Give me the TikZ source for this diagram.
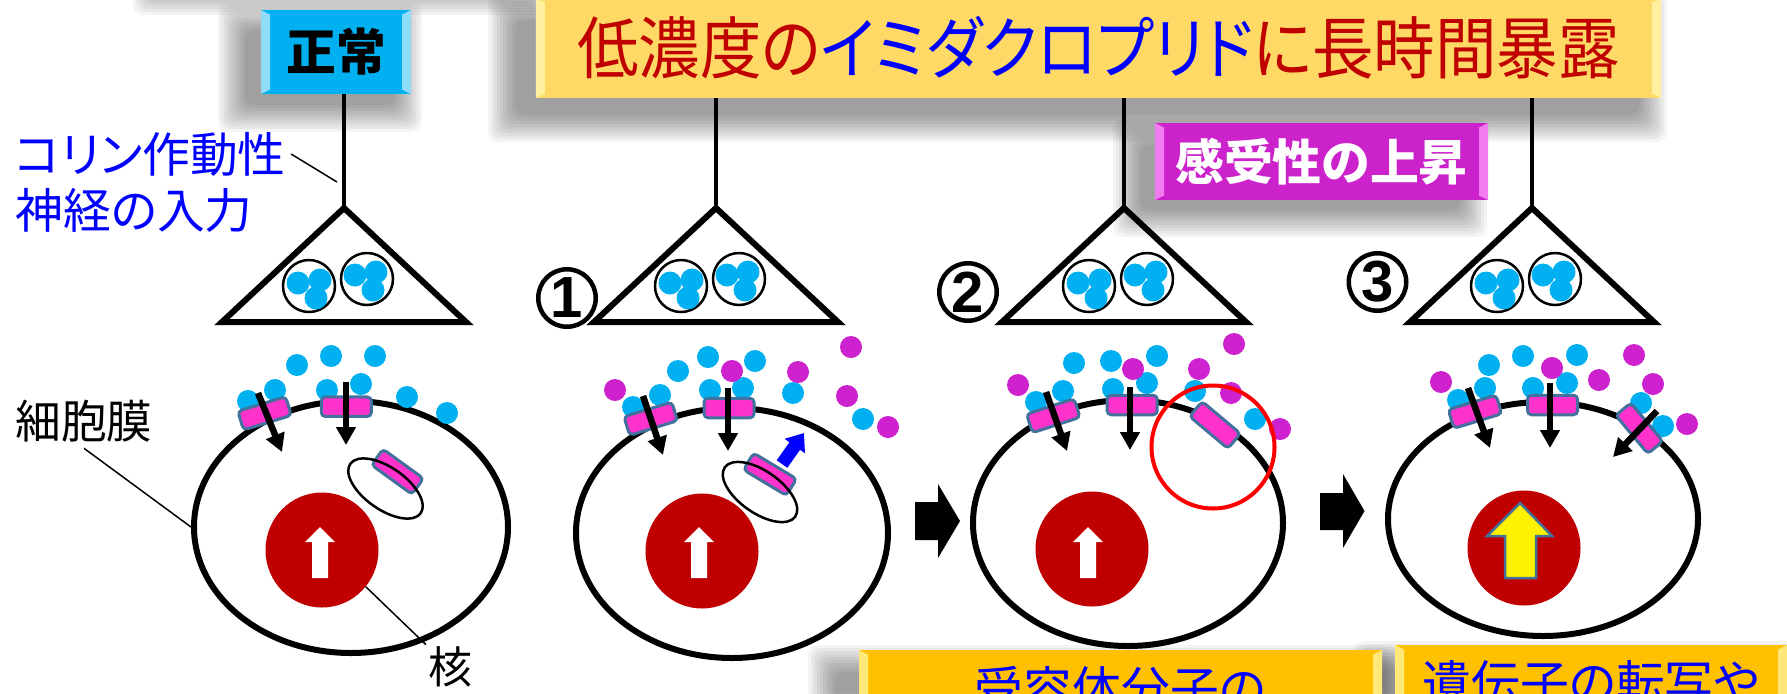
\documentclass[tikz,border=0pt]{standalone}
\usepackage{fontspec}
\setmainfont{Liberation Sans}
\newfontfamily\jp[RawFeature=+palt]{Noto Sans CJK JP}
\usetikzlibrary{arrows.meta, shapes.geometric}

\definecolor{achcyan}{HTML}{00B0F0}
\definecolor{imimag}{HTML}{CE22CE}
\definecolor{recpink}{HTML}{FF33CC}
\definecolor{recedge}{HTML}{41719C}
\definecolor{nucred}{HTML}{C00000}
\definecolor{titleyel}{HTML}{FFD966}
\definecolor{titlerim}{HTML}{FFF0A0}
\definecolor{normrim}{HTML}{8FDCF8}
\definecolor{sensmag}{HTML}{CC22CC}
\definecolor{sensrim}{HTML}{F07CF0}
\definecolor{noteorg}{HTML}{FFC000}
\definecolor{noterim}{HTML}{FFE87A}

\tikzset{
  bevel/.style={path picture={
    \fill[#1] (path picture bounding box.south west) -- (path picture bounding box.north west)
      -- ([shift={(1.8mm,-0.9mm)}]path picture bounding box.north west)
      -- ([shift={(1.8mm,0.9mm)}]path picture bounding box.south west) -- cycle;
    \fill[#1] (path picture bounding box.south east) -- (path picture bounding box.north east)
      -- ([shift={(-1.8mm,-0.9mm)}]path picture bounding box.north east)
      -- ([shift={(-1.8mm,0.9mm)}]path picture bounding box.south east) -- cycle;}},
  jpfont/.style={font=\jp\fontsize{#1}{#1}\selectfont},
  axon/.style={line width=0.9mm},
  soma/.style={line width=1.2mm, line join=miter},
  vesicle/.style={circle, draw, line width=0.5mm, fill=white, minimum size=10.4mm, inner sep=0pt},
  membrane/.style={ellipse, draw, line width=1.2mm, inner sep=0pt},
  nucleus/.style={ellipse, fill=nucred, inner sep=0pt, minimum width=22.6mm, minimum height=23mm},
  receptor/.style={rectangle, draw=recedge, fill=recpink, line width=0.6mm, rounded corners=0.8mm,
    minimum width=10mm, minimum height=3.9mm, inner sep=0pt},
  endosome/.style={ellipse, draw, line width=0.5mm, inner sep=0pt,
    minimum width=17.2mm, minimum height=8.4mm},
  influx/.style={line width=1.3mm, -{Triangle[width=3.8mm,length=3.6mm]}},
  leader/.style={line width=0.3mm},
  stepnum/.style={circle, draw, line width=0.9mm, minimum size=11.5mm, inner sep=0pt,
    font=\fontsize{33pt}{33pt}\selectfont\bfseries},
}

% soft grey shadow: corners of its core
\newcommand\softshadow[4]{%
  \foreach \k in {0,...,9}
    \fill[black, opacity=0.045, rounded corners=2mm]
      ({#1-3*\k},{#2-3*\k}) rectangle ({#3+3*\k},{#4+3*\k});}

% nerve terminal with two vesicles: apex x, apex name
\newcommand\terminal[2]{%
  \coordinate (#2) at (#1,208);
  \draw[soma] (#2) -- ({#1-122},322) -- ({#1+122},322) -- cycle;
  \node[vesicle] (#2va) at ({#1-35},286) {};
  \node[vesicle] (#2vb) at ({#1+23},279) {};
  \foreach \dx/\dy in {-11/-3, 11/-6, 7/12}
    \fill[achcyan] ({#1-35+\dx},{286+\dy}) circle[radius=2.3mm];
  \foreach \dx/\dy in {-12/-4, 9/-7, 6/11}
    \fill[achcyan] ({#1+23+\dx},{279+\dy}) circle[radius=2.3mm];}

% white up arrow inside a nucleus
\newcommand\nucarrow[1]{%
  \fill[white] ({#1-8},578) -- ({#1-8},542) -- ({#1-15},542) -- (#1,527)
    -- ({#1+15},542) -- ({#1+8},542) -- ({#1+8},578) -- cycle;}

\begin{document}
\begin{tikzpicture}[x=0.2mm, y=-0.2mm]
  \useasboundingbox (0,0) rectangle (1787,693);
  \clip (0,0) rectangle (1787,693);
  \fill[white] (0,0) rectangle (1787,693);

  % shadows
  \softshadow{160}{-70}{520}{-12}
  \softshadow{245}{30}{395}{105}
  \softshadow{515}{20}{1640}{115}
  \softshadow{1140}{145}{1460}{210}
  \softshadow{835}{672}{1370}{730}
  \softshadow{1380}{668}{1787}{730}

  % headline boxes
  \node[fill=titleyel, bevel=titlerim, minimum width=225mm, minimum height=20mm, inner sep=0pt,
        jpfont=35pt] (title) at (1098.5,48)
    {\scalebox{1}[1.1]{\textcolor{nucred}{低濃度の}\textcolor{blue}{イミダクロプリド}\textcolor{nucred}{に長時間暴露}}};
  \node[fill=achcyan, bevel=normrim, minimum width=30mm, minimum height=16.8mm, inner sep=0pt,
        font=\jp\bfseries\fontsize{28.3pt}{28.3pt}\selectfont] (normal) at (336,52) {正常};
  \node[fill=sensmag, bevel=sensrim, minimum width=66.6mm, minimum height=15.4mm, inner sep=0pt,
        text=white, font=\jp\bfseries\fontsize{27.8pt}{27.8pt}\selectfont] (sens) at (1321.5,161.5) {感受性の上昇};
  \node[fill=noteorg, bevel=noterim, minimum width=104.6mm, minimum height=15.6mm, inner sep=0pt,
        text=blue, jpfont=27.8pt] (noteA) at (1120.5,689) {受容体分子の};
  \node[fill=noteorg, bevel=noterim, minimum width=78.4mm, minimum height=15.2mm, inner sep=0pt,
        text=blue, jpfont=27.8pt] (noteB) at (1591,683) {遺伝子の転写や};

  % nerve terminals hanging from the boxes
  \terminal{344}{ap0}
  \terminal{716}{ap1}
  \terminal{1124}{ap2}
  \terminal{1532}{ap3}
  \draw[axon] (ap0 |- normal.south) -- (ap0);
  \draw[axon] (ap1 |- title.south) -- (ap1);
  \draw[axon] (ap2 |- title.south) -- (ap2);
  \draw[axon] (ap3 |- title.south) -- (ap3);

  % input label
  \node[anchor=west, inner sep=0pt, text=blue, jpfont=27.2pt] (chol1) at (15,154) {コリン作動性};
  \node[anchor=west, inner sep=0pt, text=blue, jpfont=27.2pt] (chol2) at (15,210) {神経の入力};
  \coordinate (ax0pt) at (337,182);
  \draw[leader] ([xshift=1mm]chol1.east) -- (ax0pt);

  % step numbers
  \node[stepnum] (s1) at (567,298) {1};
  \node[stepnum] (s2) at (968,292) {2};
  \node[stepnum] (s3) at (1377.5,282) {3};

  % cells and nuclei
  \node[membrane, minimum width=62.8mm, minimum height=50.4mm] (cell0) at (351,527) {};
  \node[membrane, minimum width=62.4mm, minimum height=50mm] (cell1) at (732,533) {};
  \node[membrane, minimum width=62mm, minimum height=49.2mm] (cell2) at (1128,523) {};
  \node[membrane, minimum width=62mm, minimum height=46.8mm] (cell3) at (1543,519) {};
  \node[nucleus] (nuc0) at (322,550) {};
  \node[nucleus] (nuc1) at (702,551) {};
  \node[nucleus] (nuc2) at (1092,549) {};
  \node[nucleus] (nuc3) at (1524,548) {};
  \nucarrow{320} \nucarrow{699} \nucarrow{1088}
  \filldraw[fill=yellow, draw=recedge, line width=0.5mm, line join=miter]
    (1505,578) -- (1505,536) -- (1487,536) -- (1520,503) -- (1552,536) -- (1536,536) -- (1536,578) -- cycle;

  \node[jpfont=26pt] (membr) at (84,421) {細胞膜};
  \draw[leader] (membr.south) -- (cell0.west);
  \node[jpfont=25pt, inner sep=1pt] (kaku) at (450,667) {核};
  \draw[leader] (nuc0.-40) -- (kaku.north west);

  % acetylcholine (cyan) and imidacloprid (magenta)
  \foreach \x/\y in {248/401, 275/390, 297/365, 331/356, 375/356, 327/390, 361/384, 407/397, 447/413,
                     633/407, 660/395, 678/371, 708/357, 755/361, 710/390, 743/388, 793/393, 863/419,
                     1036/402, 1063/391, 1074/363, 1111/361, 1157/356, 1113/389, 1147/383, 1195/391, 1255/419,
                     1458/400, 1489/365, 1523/356, 1577/355, 1485/388, 1533/388, 1567/383, 1641/403, 1663/426}
    \fill[achcyan] (\x,\y) circle[radius=2.2mm];
  \foreach \x/\y in {615/390, 732/371, 798/372, 851/347, 847/396, 888/427,
                     1018/385, 1133/369, 1199/369, 1234/344, 1231/393, 1280/429,
                     1441/382, 1552/368, 1599/380, 1634/355, 1653/384, 1687/424}
    \fill[imimag] (\x,\y) circle[radius=2.2mm];

  % receptors
  \node[receptor, rotate=17] (r00) at (264.6,413.3) {};
  \node[receptor] (r01) at (346.3,406.7) {};
  \node[receptor, rotate=-36] (r02) at (397.5,471.7) {};
  \node[endosome, rotate=-35] (endo0) at (385.5,488.5) {};
  \node[receptor, rotate=17] (r10) at (650.7,418.7) {};
  \node[receptor] (r11) at (729,408) {};
  \node[receptor, rotate=-31] (r12) at (770,474.3) {};
  \node[endosome, rotate=-35] (endo1) at (760,492) {};
  \node[receptor, rotate=18] (r20) at (1053.3,415.7) {};
  \node[receptor] (r21) at (1132.2,405) {};
  \node[receptor, rotate=-40] (r22) at (1215,425) {};
  \node[receptor, rotate=17] (r30) at (1475,411.7) {};
  \node[receptor] (r31) at (1552.5,405) {};
  \node[receptor, rotate=-50] (r32) at (1639.3,428.3) {};

  % ion flow through the channels
  \draw[influx] (258,393) -- (282,452);
  \draw[influx] (346,382) -- (346,445);
  \draw[influx] (643,396) -- (663,455);
  \draw[influx] (728,388) -- (728,451);
  \draw[influx] (1046,392) -- (1067,451);
  \draw[influx] (1130,387) -- (1130,450);
  \draw[influx] (1468,388) -- (1490,448);
  \draw[influx] (1550,383) -- (1550,448);
  \draw[influx] (1657,411) -- (1613,457);

  % receptor going back to the membrane
  \draw[line width=2.6mm, blue, -{Triangle[width=4.8mm,length=3.2mm]}] (782,464) -- (804,433);

  % block arrows between stages
  \fill (915,502) -- (938,502) -- (938,484) -- (960,521) -- (938,558) -- (938,540) -- (915,540) -- cycle;
  \fill (1320,493) -- (1343,493) -- (1343,474) -- (1364.5,511) -- (1343,548) -- (1343,530) -- (1320,530) -- cycle;

  \draw[red, line width=0.8mm] (1213,447) circle[radius=12.3mm];
\end{tikzpicture}
\end{document}
